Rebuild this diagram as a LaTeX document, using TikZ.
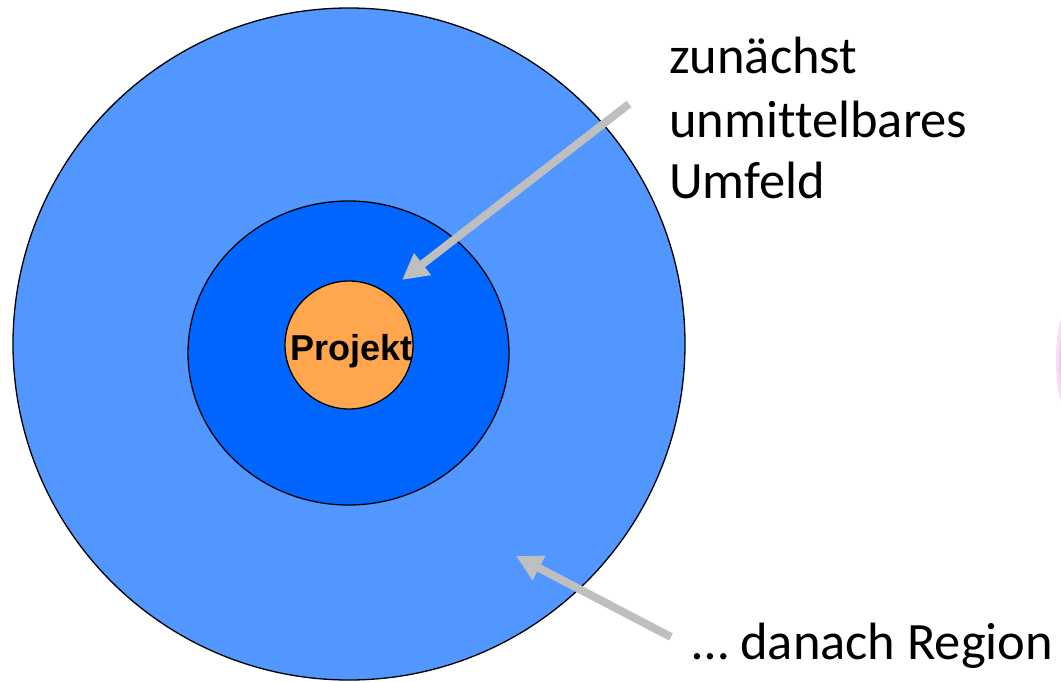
\documentclass[tikz,border=0pt]{standalone}
\usepackage{fontspec}
\setmainfont[Ligatures=NoCommon]{Carlito}
\newfontfamily\arialfont{Liberation Sans}
\usetikzlibrary{arrows.meta}
\definecolor{outerblue}{RGB}{82,150,255}
\definecolor{midblue}{RGB}{0,102,255}
\definecolor{coreorange}{RGB}{255,166,79}
\definecolor{arrowgray}{RGB}{191,191,191}
\definecolor{blobpink}{RGB}{240,160,220}
\tikzset{
  ring/.style={draw=black, line width=1.3pt},
  pointer/.style={draw=arrowgray, line width=8pt, -{Triangle[length=26pt,width=26pt]}},
  label/.style={font=\fontsize{52.5}{63}\selectfont, align=left, anchor=base west, inner sep=0pt},
}
\begin{document}
\begin{tikzpicture}[x=1pt,y=-1pt]
\useasboundingbox (0,0) rectangle (1061,681);
\fill[white] (0,0) rectangle (1061,681);
% faint pink blob at right edge
\fill[blobpink, opacity=0.35] (1063,360) ellipse [x radius=7, y radius=42];
\fill[blobpink, opacity=0.4] (1063,362) ellipse [x radius=4, y radius=28];
% circles
\node[ring, fill=outerblue, circle, minimum size=672pt, inner sep=0pt] (outer) at (349,344) {};
\draw[ring, fill=midblue] (348.5,353) ellipse [x radius=160.5, y radius=152];
\coordinate (midc) at (348.5,353);
\node[ring, fill=coreorange, circle, minimum size=128pt, inner sep=0pt] (core) at (349,345) {};
\node[font=\arialfont\bfseries\fontsize{36}{40}\selectfont, anchor=base, inner sep=0pt] (proj) at (351.5,360) {Projekt};
% labels
\node[label] (l1) at (669,73) {zunächst};
\node[label] (l2) at (669,137) {unmittelbares};
\node[label] (l3) at (669,198) {Umfeld};
\node[label] (l4) at (692,659) {… danach Region};
% arrows
\coordinate (a1s) at (629,104);
\coordinate (a1e) at (402,280);
\coordinate (a2s) at (671,637);
\coordinate (a2e) at (516,556);
\draw[pointer] (a1s) -- (a1e);
\draw[pointer] (a2s) -- (a2e);
\end{tikzpicture}
\end{document}
